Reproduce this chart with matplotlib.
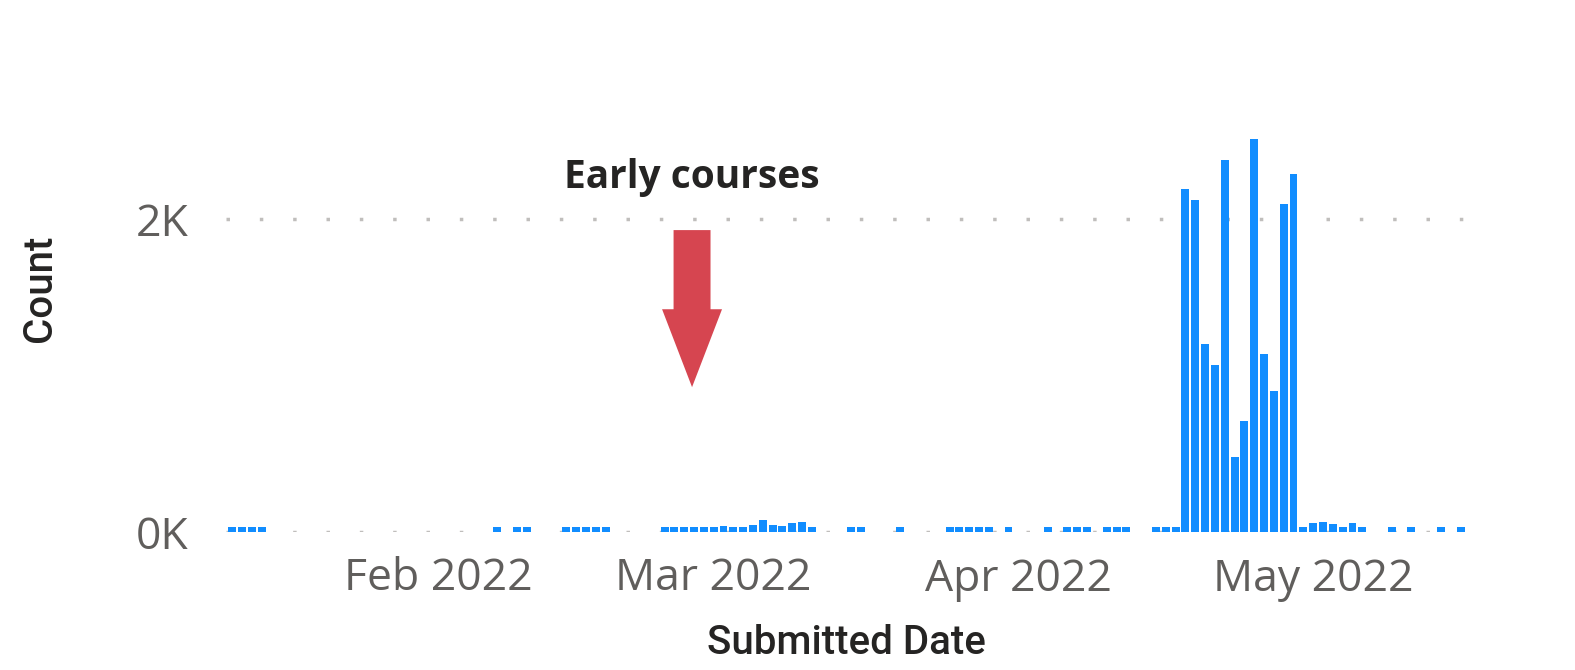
from datetime import datetime, timedelta
import matplotlib
matplotlib.use("Agg")
import matplotlib.pyplot as plt
import matplotlib.dates as mdates
from matplotlib.patches import FancyArrow
from matplotlib.ticker import FuncFormatter

plt.rcParams["font.family"] = ["Open Sans", "DejaVu Sans"]

# daily submission counts (only days with submissions)
dates = [
    "2022-01-11", "2022-01-12", "2022-01-13", "2022-01-14",
    "2022-02-07", "2022-02-09", "2022-02-10",
    "2022-02-14", "2022-02-15", "2022-02-16", "2022-02-17", "2022-02-18",
    "2022-02-24", "2022-02-25", "2022-02-26", "2022-02-27", "2022-02-28",
    "2022-03-01", "2022-03-02", "2022-03-03", "2022-03-04", "2022-03-05",
    "2022-03-06", "2022-03-07", "2022-03-08", "2022-03-09", "2022-03-10",
    "2022-03-11", "2022-03-15", "2022-03-16", "2022-03-20",
    "2022-03-25", "2022-03-26", "2022-03-27", "2022-03-28", "2022-03-29",
    "2022-03-31", "2022-04-04", "2022-04-06", "2022-04-07", "2022-04-08",
    "2022-04-10", "2022-04-11", "2022-04-12",
    "2022-04-15", "2022-04-16", "2022-04-17", "2022-04-18", "2022-04-19",
    "2022-04-20", "2022-04-21", "2022-04-22", "2022-04-23", "2022-04-24",
    "2022-04-25", "2022-04-26", "2022-04-27", "2022-04-28", "2022-04-29",
    "2022-04-30", "2022-05-01", "2022-05-02", "2022-05-03", "2022-05-04",
    "2022-05-05", "2022-05-06",
    "2022-05-09", "2022-05-11", "2022-05-14", "2022-05-16",
]
counts = [
    30, 30, 30, 30,
    30, 30, 30,
    30, 30, 30, 30, 30,
    30, 30, 30, 30, 30,
    30, 38, 30, 30, 45,
    77, 45, 38, 58, 64,
    30, 30, 30, 30,
    30, 30, 30, 30, 30,
    30, 30, 30, 30, 30,
    30, 30, 30,
    30, 30, 30, 2190, 2120,
    1200, 1070, 2380, 480, 710,
    2510, 1140, 900, 2100, 2290,
    30, 58, 64, 51, 30,
    58, 30,
    30, 30, 30, 30,
]
yticks = [0, 2000]
xtick_dates = ["2022-02-01", "2022-03-01", "2022-04-01", "2022-05-01"]

annot_text = "Early courses"
annot_date = "2022-02-26"   # arrow points at the early bump

days = [datetime.strptime(d, "%Y-%m-%d") for d in dates]

bar_color = "#118DFF"
grid_color = "#C0BEBC"
tick_color = "#605E5C"
title_color = "#252423"

fig = plt.figure(figsize=(15.75, 6.7), dpi=100)
ax = fig.add_axes([226 / 1575, 138 / 670, (1466 - 226) / 1575, (532 - 94) / 670])

ax.bar(days, counts, width=0.81, color=bar_color, zorder=2)

x0 = mdates.date2num(days[0]) - 0.62
x1 = mdates.date2num(days[-1]) + 0.55
ax.set_xlim(x0, x1)
ax.set_ylim(0, 2800)

ax.set_yticks(yticks)
ax.yaxis.set_major_formatter(FuncFormatter(lambda v, p: f"{v / 1000:.0f}K"))
ax.set_xticks([datetime.strptime(d, "%Y-%m-%d") for d in xtick_dates])
ax.xaxis.set_major_formatter(mdates.DateFormatter("%b %Y"))

ax.tick_params(axis="both", length=0, labelsize=32, labelcolor=tick_color)
ax.tick_params(axis="y", pad=27)
ax.tick_params(axis="x", pad=18)

for s in ax.spines.values():
    s.set_visible(False)

ax.grid(axis="y", color=grid_color, linewidth=2.5, linestyle=(0, (1, 8.6)),
        dash_capstyle="butt", zorder=1)
ax.grid(axis="x", visible=False)

ax.set_xlabel("Submitted Date", fontsize=29, color=title_color,
              fontfamily="Roboto", fontweight="medium", labelpad=16)
ax.set_ylabel("Count", fontsize=29, color=title_color,
              fontfamily="Roboto", fontweight="medium")
ax.yaxis.set_label_coords(-0.135, 0.557)

# annotation: label + red arrow
ax_date = mdates.date2num(datetime.strptime(annot_date, "%Y-%m-%d")) + 0.8
ax.text(ax_date, 2198, annot_text, ha="center", va="baseline",
        fontsize=28, fontweight="bold", color=title_color)
arrow = FancyArrow(ax_date, 1930, 0, -1004, width=3.76, head_width=6.1,
                   head_length=498, length_includes_head=True,
                   color="#D64550", linewidth=0, zorder=3)
ax.add_patch(arrow)

fig.savefig("out.png", dpi=100, facecolor="white")
